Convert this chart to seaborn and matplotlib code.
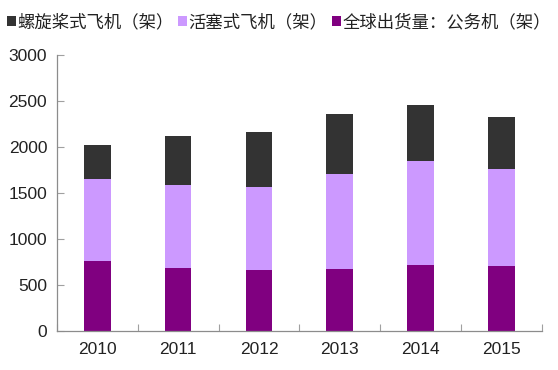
import numpy as np
import pandas as pd
import seaborn as sns
import matplotlib.pyplot as plt
from matplotlib.patches import Patch

# Data
years = ['2010', '2011', '2012', '2013', '2014', '2015']
jets = [760, 690, 665, 675, 722, 712]            # 全球出货量：公务机
pistons = [893, 895, 907, 1028, 1126, 1050]      # 活塞式飞机
turboprops = [368, 535, 593, 655, 605, 570]      # 螺旋桨式飞机

labels = ['螺旋桨式飞机（架）', '活塞式飞机（架）', '全球出货量：公务机（架）']
colors = ['#333333', '#CC99FF', '#800080']

df = pd.DataFrame({'year': years, 'jets': jets, 'pistons': pistons, 'turboprops': turboprops})
df['lvl1'] = df['jets']
df['lvl2'] = df['jets'] + df['pistons']
df['lvl3'] = df['lvl2'] + df['turboprops']

sns.set_theme(style='white')
plt.rcParams['font.family'] = ['Liberation Sans', 'Noto Sans CJK SC', 'DejaVu Sans']

fig = plt.figure(figsize=(5.58, 3.70), dpi=100)
ax = fig.add_axes([0.102, 0.105, 0.869, 0.746])

# stacked bars: draw cumulative totals from top down
for col, c in zip(['lvl3', 'lvl2', 'lvl1'], colors):
    sns.barplot(data=df, x='year', y=col, color=c, width=0.33, saturation=1,
                edgecolor='none', linewidth=0, ax=ax)

ax.set_xlim(-0.5, 5.5)
ax.set_ylim(0, 3000)
ax.set_yticks(np.arange(0, 3001, 500))
ax.set_xlabel('')
ax.set_ylabel('')

for s in ['top', 'right']:
    ax.spines[s].set_visible(False)
for s in ['left', 'bottom']:
    ax.spines[s].set_color('#8c8c8c')
    ax.spines[s].set_linewidth(0.9)

ax.tick_params(axis='y', direction='in', length=5, width=0.8, color='#a0a0a0',
               labelsize=12.5, labelcolor='#222222', pad=7, left=True)
ax.set_xticks(range(len(years)))
ax.set_xticklabels(years)
ax.tick_params(axis='x', length=0, labelsize=12.5, labelcolor='#222222', pad=8)
# small inward ticks at category boundaries
ax.set_xticks(np.arange(-0.5, 6, 1.0), minor=True)
ax.tick_params(axis='x', which='minor', direction='in', length=5, width=0.8,
               color='#a0a0a0', bottom=True)

handles = [Patch(facecolor=c, edgecolor='none') for c in colors]
fig.legend(handles, labels, loc='center', bbox_to_anchor=(0.5, 0.94), ncol=3,
           frameon=False, fontsize=12.5, handlelength=0.5, handleheight=0.5,
           handletextpad=0.1, columnspacing=0.25, labelcolor='#222222')

fig.savefig('out.png', dpi=100)
